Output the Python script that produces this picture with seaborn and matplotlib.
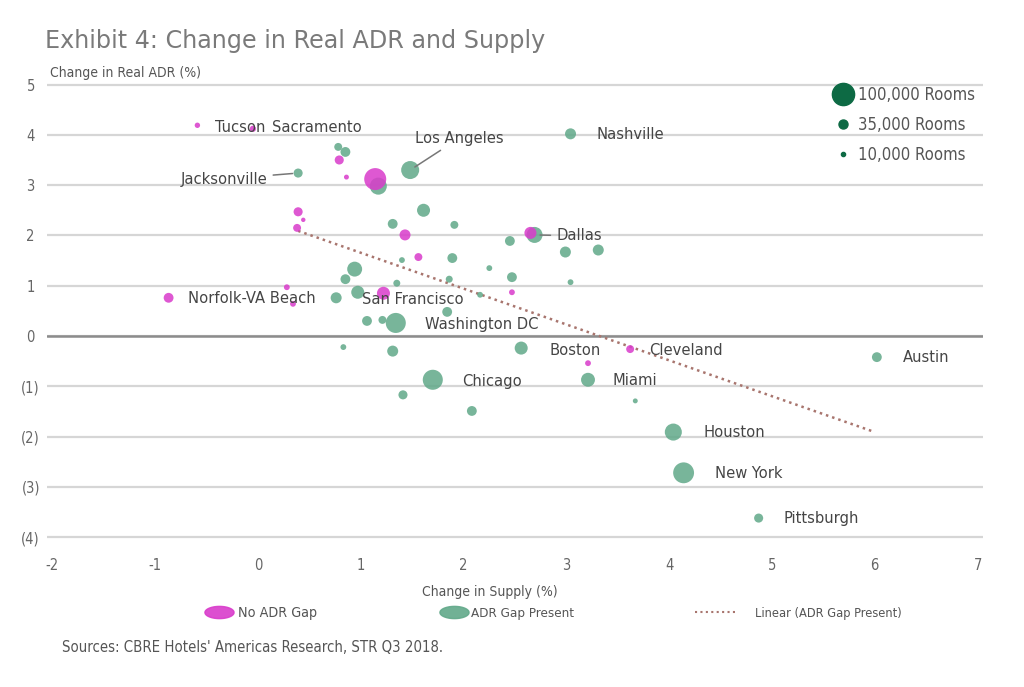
import numpy as np
import pandas as pd
import matplotlib
matplotlib.use("Agg")
import matplotlib.pyplot as plt
import seaborn as sns
from matplotlib.lines import Line2D
from matplotlib import font_manager as fm

# ---------------- data ----------------
# No ADR Gap (magenta)
nogap_name = ["Tucson", "Sacramento", "", "", "", "", "", "", "", "", "",
              "Norfolk-VA Beach", "", "San Francisco", "", "Dallas_m", "Cleveland", ""]
nogap_x = [-0.59, -0.05, 0.79, 0.86, 1.14, 0.39, 0.44, 0.38, 1.43, 1.56, 0.28,
           -0.87, 0.34, 1.22, 2.47, 2.65, 3.62, 3.21]
nogap_y = [4.19, 4.12, 3.50, 3.16, 3.12, 2.47, 2.31, 2.15, 2.01, 1.57, 0.97,
           0.76, 0.64, 0.85, 0.87, 2.05, -0.26, -0.54]
nogap_rooms = [6000, 8000, 17000, 5000, 100000, 17000, 4000, 13000, 25000, 13000, 7000,
               20000, 7000, 35000, 7000, 30000, 13000, 7000]

# ADR Gap Present (green)
gap_name = ["Nashville", "", "", "Jacksonville", "Los Angeles", "", "", "", "", "",
            "Dallas", "", "", "", "", "", "", "", "", "", "", "", "", "", "", "",
            "Washington DC", "", "", "", "", "Boston", "Chicago", "", "", "Miami", "",
            "Houston", "New York", "Pittsburgh", "Austin"]
gap_x = [3.04, 0.78, 0.85, 0.39, 1.48, 1.17, 1.61, 1.31, 1.91, 2.45,
         2.69, 2.99, 3.31, 1.40, 1.89, 2.25, 0.94, 0.85, 1.86, 2.47, 3.04, 1.35, 0.76, 0.97, 2.16, 1.84,
         1.34, 1.06, 1.21, 0.83, 1.31, 2.56, 1.70, 1.41, 2.08, 3.21, 3.67,
         4.04, 4.14, 4.87, 6.02]
gap_y = [4.02, 3.76, 3.66, 3.24, 3.30, 2.98, 2.50, 2.23, 2.21, 1.89,
         2.01, 1.67, 1.71, 1.51, 1.55, 1.35, 1.33, 1.13, 1.13, 1.17, 1.07, 1.05, 0.76, 0.87, 0.82, 0.48,
         0.26, 0.30, 0.32, -0.22, -0.30, -0.24, -0.87, -1.17, -1.49, -0.87, -1.29,
         -1.91, -2.72, -3.62, -0.42]
gap_rooms = [25000, 13000, 20000, 17000, 67000, 60000, 35000, 20000, 13000, 20000,
             53000, 25000, 25000, 7000, 20000, 7000, 46000, 20000, 10000, 20000, 7000, 10000, 25000, 35000, 7000, 20000,
             83000, 20000, 13000, 7000, 25000, 35000, 83000, 17000, 20000, 40000, 5000,
             60000, 90000, 17000, 20000]

# Linear trend (ADR Gap Present) endpoints
trend_x = [0.39, 6.0]
trend_y = [2.09, -1.91]

x_ticks = [-2, -1, 0, 1, 2, 3, 4, 5, 6, 7]
y_ticks = [-4, -3, -2, -1, 0, 1, 2, 3, 4, 5]
y_ticklabels = ["(4)", "(3)", "(2)", "(1)", "0", "1", "2", "3", "4", "5"]
legend_rooms = ["100,000 Rooms", "35,000 Rooms", "10,000 Rooms"]

# labels: name -> (dx px, dy px, ha, leader)
label_style = {
    "Tucson": (18, -2, "left", False),
    "Sacramento": (19, 1, "left", False),
    "Nashville": (26, -1, "left", False),
    "Los Angeles": (5, 32, "left", True),
    "Jacksonville": (-31, -6, "right", True),
    "Dallas": (22, -1, "left", True),
    "Norfolk-VA Beach": (19, -1, "left", False),
    "San Francisco": (-21, -6, "left", False),
    "Washington DC": (29, -2, "left", False),
    "Boston": (28, -2, "left", False),
    "Cleveland": (19, -1, "left", False),
    "Chicago": (29, -2, "left", False),
    "Miami": (24, -1, "left", False),
    "Austin": (26, 0, "left", False),
    "Houston": (30, 0, "left", False),
    "New York": (31, -1, "left", False),
    "Pittsburgh": (25, 0, "left", False),
}

GREEN = "#62A98A"
MAGENTA = "#D93CCB"
DARKGREEN = "#0D6A44"
TXT = "#454545"

df = pd.concat([
    pd.DataFrame({"x": gap_x, "y": gap_y, "rooms": gap_rooms, "name": gap_name,
                  "group": "ADR Gap Present"}),
    pd.DataFrame({"x": nogap_x, "y": nogap_y, "rooms": nogap_rooms, "name": nogap_name,
                  "group": "No ADR Gap"}),
], ignore_index=True)

sns.set_theme(style="white")
plt.rcParams['font.family'] = ['DejaVu Sans']
plt.rcParams['font.stretch'] = 'condensed'

def narrow(size):
    return fm.FontProperties(family="DejaVu Sans", stretch="condensed", size=size)

fig = plt.figure(figsize=(10.24, 6.87), dpi=100)
ax = fig.add_axes([0.0462, 0.2144, 0.9135, 0.6662])

ax.set_xlim(-2.05, 7.05)
ax.set_ylim(-4.05, 5.05)
ax.set_yticks(y_ticks)
ax.set_yticklabels(y_ticklabels)
ax.set_xticks(x_ticks)
ax.set_xticklabels([str(v) for v in x_ticks])
ax.yaxis.grid(True, color="#d6d6d6", lw=1.6, zorder=0)
ax.xaxis.grid(False)
ax.axhline(0, color="#8c8c8c", lw=1.8, zorder=1)
for s in ax.spines.values():
    s.set_visible(False)
ax.tick_params(axis="both", length=0, labelsize=10.5, labelcolor="#666666")
ax.tick_params(axis="x", pad=13)
ax.tick_params(axis="y", pad=12)
for t in ax.get_yticklabels():
    t.set_horizontalalignment("center")

sns.scatterplot(data=df, x="x", y="y", hue="group", size="rooms",
                palette={"ADR Gap Present": GREEN, "No ADR Gap": MAGENTA},
                sizes=(0, 251), size_norm=(0, 100000), linewidth=0, alpha=0.86,
                legend=False, ax=ax, zorder=3)
ax.set_xlabel("")
ax.set_ylabel("")

# trend line
ax.plot(trend_x, trend_y, linestyle=(0, (1, 1.6)), color="#A8756E", lw=1.8, zorder=2)

# city labels
for _, r in df.iterrows():
    if r["name"] in label_style:
        dx, dy, ha, leader = label_style[r["name"]]
        kw = {}
        if leader:
            kw["arrowprops"] = dict(arrowstyle="-", color="#777777", lw=1.1,
                                    shrinkA=2, shrinkB=4)
        ax.annotate(r["name"], xy=(r["x"], r["y"]), xytext=(dx, dy),
                    textcoords="offset pixels", ha=ha, va="center",
                    fontsize=11.8, color=TXT, zorder=5, **kw)

# title & axis labels
fig.text(45 / 1024, 1 - 41 / 687, "Exhibit 4: Change in Real ADR and Supply",
         fontsize=17.2, color="#7a7a7a", va="center", ha="left", stretch="normal")
fig.text(50 / 1024, 1 - 73 / 687, "Change in Real ADR (%)", fontsize=10,
         color="#555555", va="center", ha="left")
fig.text(490 / 1024, 1 - 592 / 687, "Change in Supply (%)", fontsize=10,
         color="#555555", va="center", ha="center")
fig.text(62 / 1024, 1 - 648 / 687, "Sources: CBRE Hotels' Americas Research, STR Q3 2018.",
         fontsize=10.7, color="#555555", va="center", ha="left")

# size legend (top right)
size_handles = [
    Line2D([], [], marker="o", linestyle="none", color=DARKGREEN, markersize=16),
    Line2D([], [], marker="o", linestyle="none", color=DARKGREEN, markersize=6.5),
    Line2D([], [], marker="o", linestyle="none", color=DARKGREEN, markersize=3),
]
fig.legend(size_handles, legend_rooms, loc="upper left",
           bbox_to_anchor=(830 / 1024, 1 - 86 / 687), frameon=False,
           prop=narrow(12), labelcolor="#555555", handlelength=1.5, handletextpad=0.2,
           labelspacing=0.72, borderpad=0, borderaxespad=0)

# bottom legend
t = np.linspace(0, 2 * np.pi, 60)
ellipse = list(zip(np.cos(t), 0.42 * np.sin(t)))
bottom = [
    (Line2D([], [], marker=ellipse, linestyle="none", color=MAGENTA, markersize=21, alpha=0.9),
     "No ADR Gap", 208, 1.6, 0.5, 10.3),
    (Line2D([], [], marker=ellipse, linestyle="none", color=GREEN, markersize=21, alpha=0.9),
     "ADR Gap Present", 443, 1.6, 0.5, 9.6),
    (Line2D([], [], linestyle=(0, (1, 1.6)), color="#A8756E", lw=1.5),
     "Linear (ADR Gap Present)", 695, 3.1, 1.6, 9.2),
]
for h, lab, x0, hl, tp, fs in bottom:
    fig.legend([h], [lab], loc="center left", bbox_to_anchor=(x0 / 1024, 1 - 613 / 687),
               frameon=False, prop=narrow(fs), labelcolor="#555555", handlelength=hl,
               handletextpad=tp, borderpad=0, borderaxespad=0)

fig.savefig("out.png", dpi=100)
